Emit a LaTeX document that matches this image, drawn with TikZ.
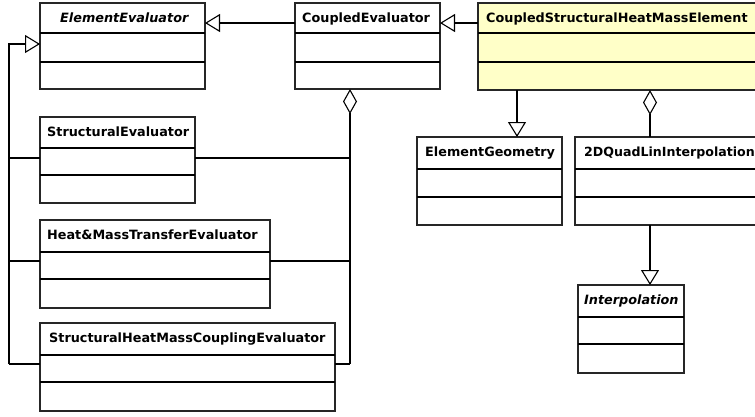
\documentclass[tikz,border=0pt]{standalone}
\usepackage{fontspec}
\setmainfont{DejaVu Sans}
\usetikzlibrary{arrows.meta}
\definecolor{clsyellow}{RGB}{255,255,200}
\tikzset{
  clsbox/.style={draw=black!85, line width=1.1pt, inner sep=0pt, outer sep=0pt, anchor=north west},
  clsdiv/.style={draw=black, line width=2pt},
  clstext/.style={anchor=base west, inner sep=0pt, font=\fontsize{12.8}{15}\selectfont\bfseries},
  conn/.style={draw=black, line width=1.1pt},
  gen/.style={conn, -{Triangle[open, length=15pt, width=18pt, line width=1.1pt]}},
  aggr/.style={conn, {Diamond[open, length=25pt, width=14pt, line width=1.1pt]}-},
}
\newcommand{\clsfill}{white}
% \clsboxdraw{name}{x1}{y1}{x2}{y2}{d1}{d2}{text x}{text}
\newcommand{\clsboxdraw}[9]{%
  \node[clsbox, fill=\clsfill, minimum width=#4pt-#2pt, minimum height=#5pt-#3pt] (#1) at (#2,#3) {};
  \draw[clsdiv] (#2,#6) -- (#4,#6);
  \draw[clsdiv] (#2,#7) -- (#4,#7);
  \node[clstext] (#1-label) at (#8,#3+19) {#9};
}
\begin{document}
\begin{tikzpicture}[x=1pt,y=-1pt]
\clip (0,0) rectangle (755,416);
\fill[white] (0,0) rectangle (755,416);

\clsboxdraw{EE}{40}{3}{205}{89}{33}{62}{60}{\itshape ElementEvaluator}
\clsboxdraw{CE}{295}{3}{440}{89}{33}{62}{302}{CoupledEvaluator}
\renewcommand{\clsfill}{clsyellow}
\clsboxdraw{CSHME}{478}{3}{820}{90}{33}{62}{486}{CoupledStructuralHeatMassElement}
\renewcommand{\clsfill}{white}
\clsboxdraw{SE}{40}{117}{195}{203}{148}{175}{47}{StructuralEvaluator}
\clsboxdraw{HM}{40}{220}{270}{308}{252}{279}{47}{Heat\&MassTransferEvaluator}
\clsboxdraw{SHMC}{40}{323}{335}{411}{355}{382}{49}{StructuralHeatMassCouplingEvaluator}
\clsboxdraw{EG}{417}{137}{562}{225}{169}{197}{425}{ElementGeometry}
\clsboxdraw{QL}{575}{137}{820}{225}{169}{197}{584}{\fontsize{12.6}{15}\selectfont 2DQuadLinInterpolation}
\clsboxdraw{IP}{578}{285}{684}{373}{317}{344}{584}{\itshape Interpolation}

% top row generalizations
\coordinate (top) at (0,23);
\draw[gen] (CE.west |- top) -- (EE.east |- top);
\draw[gen] (CSHME.west |- top) -- (CE.east |- top);

% left generalization tree
\coordinate (lt) at (9,44);
\coordinate (l1) at (9,158);
\coordinate (l2) at (9,261);
\coordinate (l3) at (9,364);
\draw[gen] (l3) -- (lt) -- (EE.west |- lt);
\draw[conn] (SE.west |- l1) -- (l1);
\draw[conn] (HM.west |- l2) -- (l2);
\draw[conn] (SHMC.west |- l3) -- (l3);

% aggregation from CoupledEvaluator
\coordinate (r1) at (350,158);
\coordinate (r2) at (350,261);
\coordinate (r3) at (350,364);
\draw[aggr] (r1 |- CE.south) -- (r3);
\draw[conn] (SE.east |- r1) -- (r1);
\draw[conn] (HM.east |- r2) -- (r2);
\draw[conn] (SHMC.east |- r3) -- (r3);

% CSHME relations
\coordinate (g1) at (517,0);
\coordinate (q1) at (650,0);
\draw[gen] (g1 |- CSHME.south) -- (g1 |- EG.north);
\draw[aggr] (q1 |- CSHME.south) -- (q1 |- QL.north);
\draw[gen] (q1 |- QL.south) -- (q1 |- IP.north);
\end{tikzpicture}
\end{document}
